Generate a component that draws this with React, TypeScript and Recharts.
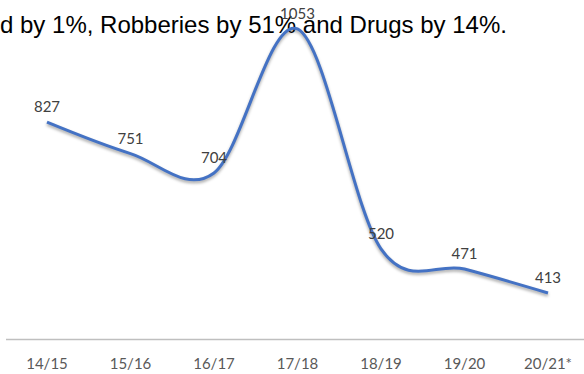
import React from 'react';
import { LineChart, Line, XAxis, YAxis, LabelList } from 'recharts';

const categories = ['14/15', '15/16', '16/17', '17/18', '18/19', '19/20', '20/21*'];
const incidents = [827, 751, 704, 1053, 520, 471, 413];
const headline = 'd by 1%, Robberies by 51% and Drugs by 14%.';

const data = categories.map((c, i) => ({ category: c, value: incidents[i] }));

// Catmull-Rom style smoothing (similar to Excel "smoothed line")
function smoothCurve(context: any) {
  let x0 = NaN, y0 = NaN, x1 = NaN, y1 = NaN, x2 = NaN, y2 = NaN;
  let pt = 0;
  let line: any = NaN;
  const k = 1 / 6;
  const seg = (x: number, y: number) => {
    context.bezierCurveTo(
      x1 + k * (x2 - x0),
      y1 + k * (y2 - y0),
      x2 + k * (x1 - x),
      y2 + k * (y1 - y),
      x2,
      y2
    );
  };
  return {
    areaStart() { line = 0; },
    areaEnd() { line = NaN; },
    lineStart() { x0 = x1 = x2 = y0 = y1 = y2 = NaN; pt = 0; },
    lineEnd() {
      if (pt === 2) context.lineTo(x2, y2);
      else if (pt === 3) seg(x1, y1);
      if (line || (line !== 0 && pt === 1)) context.closePath();
      line = 1 - line;
    },
    point(x: number, y: number) {
      x = +x; y = +y;
      if (pt === 0) {
        pt = 1;
        if (line) context.lineTo(x, y); else context.moveTo(x, y);
      } else if (pt === 1) {
        pt = 2; x1 = x; y1 = y;
      } else {
        pt = 3;
        seg(x, y);
      }
      x0 = x1; x1 = x2; x2 = x;
      y0 = y1; y1 = y2; y2 = y;
    },
  };
}

export default function App() {
  return (
    <div style={{ position: 'absolute', left: 0, top: 0, width: 584, height: 374, background: '#fff', overflow: 'hidden' }}>
      <style>{`.shadowline .recharts-line-curve { filter: drop-shadow(0px 2px 1.5px rgba(0,0,0,0.35)); }`}</style>
      <div
        style={{
          position: 'absolute',
          left: 0,
          top: 13,
          fontFamily: '"Liberation Sans", Arial, sans-serif',
          fontSize: 24,
          lineHeight: '24px',
          color: '#000',
          whiteSpace: 'nowrap',
        }}
      >
        {headline}
      </div>
      <div style={{ position: 'absolute', left: 0, top: 0 }}>
        <LineChart
          width={584}
          height={374}
          data={data}
          margin={{ top: 9.6, right: 0, bottom: 4.4, left: 6 }}
        >
          <XAxis
            dataKey="category"
            interval={0}
            height={30}
            padding={{ left: 41, right: 36 }}
            axisLine={{ stroke: '#BFBFBF', strokeWidth: 1.5 }}
            tickLine={false}
            tickSize={6}
            tickMargin={13}
            tick={{ fill: '#595959', fontSize: 15, fontFamily: 'Lato, "Open Sans", sans-serif' }}
          />
          <YAxis hide domain={[300, 1100]} />
          <Line
            className="shadowline"
            dataKey="value"
            type={smoothCurve as any}
            stroke="#4472C4"
            strokeWidth={3}
            dot={false}
            activeDot={false}
            isAnimationActive={false}
          >
            <LabelList
              dataKey="value"
              position="top"
              offset={10}
              fill="#404040"
              fontSize={15}
              fontFamily='Lato, "Open Sans", sans-serif'
            />
          </Line>
        </LineChart>
      </div>
    </div>
  );
}
